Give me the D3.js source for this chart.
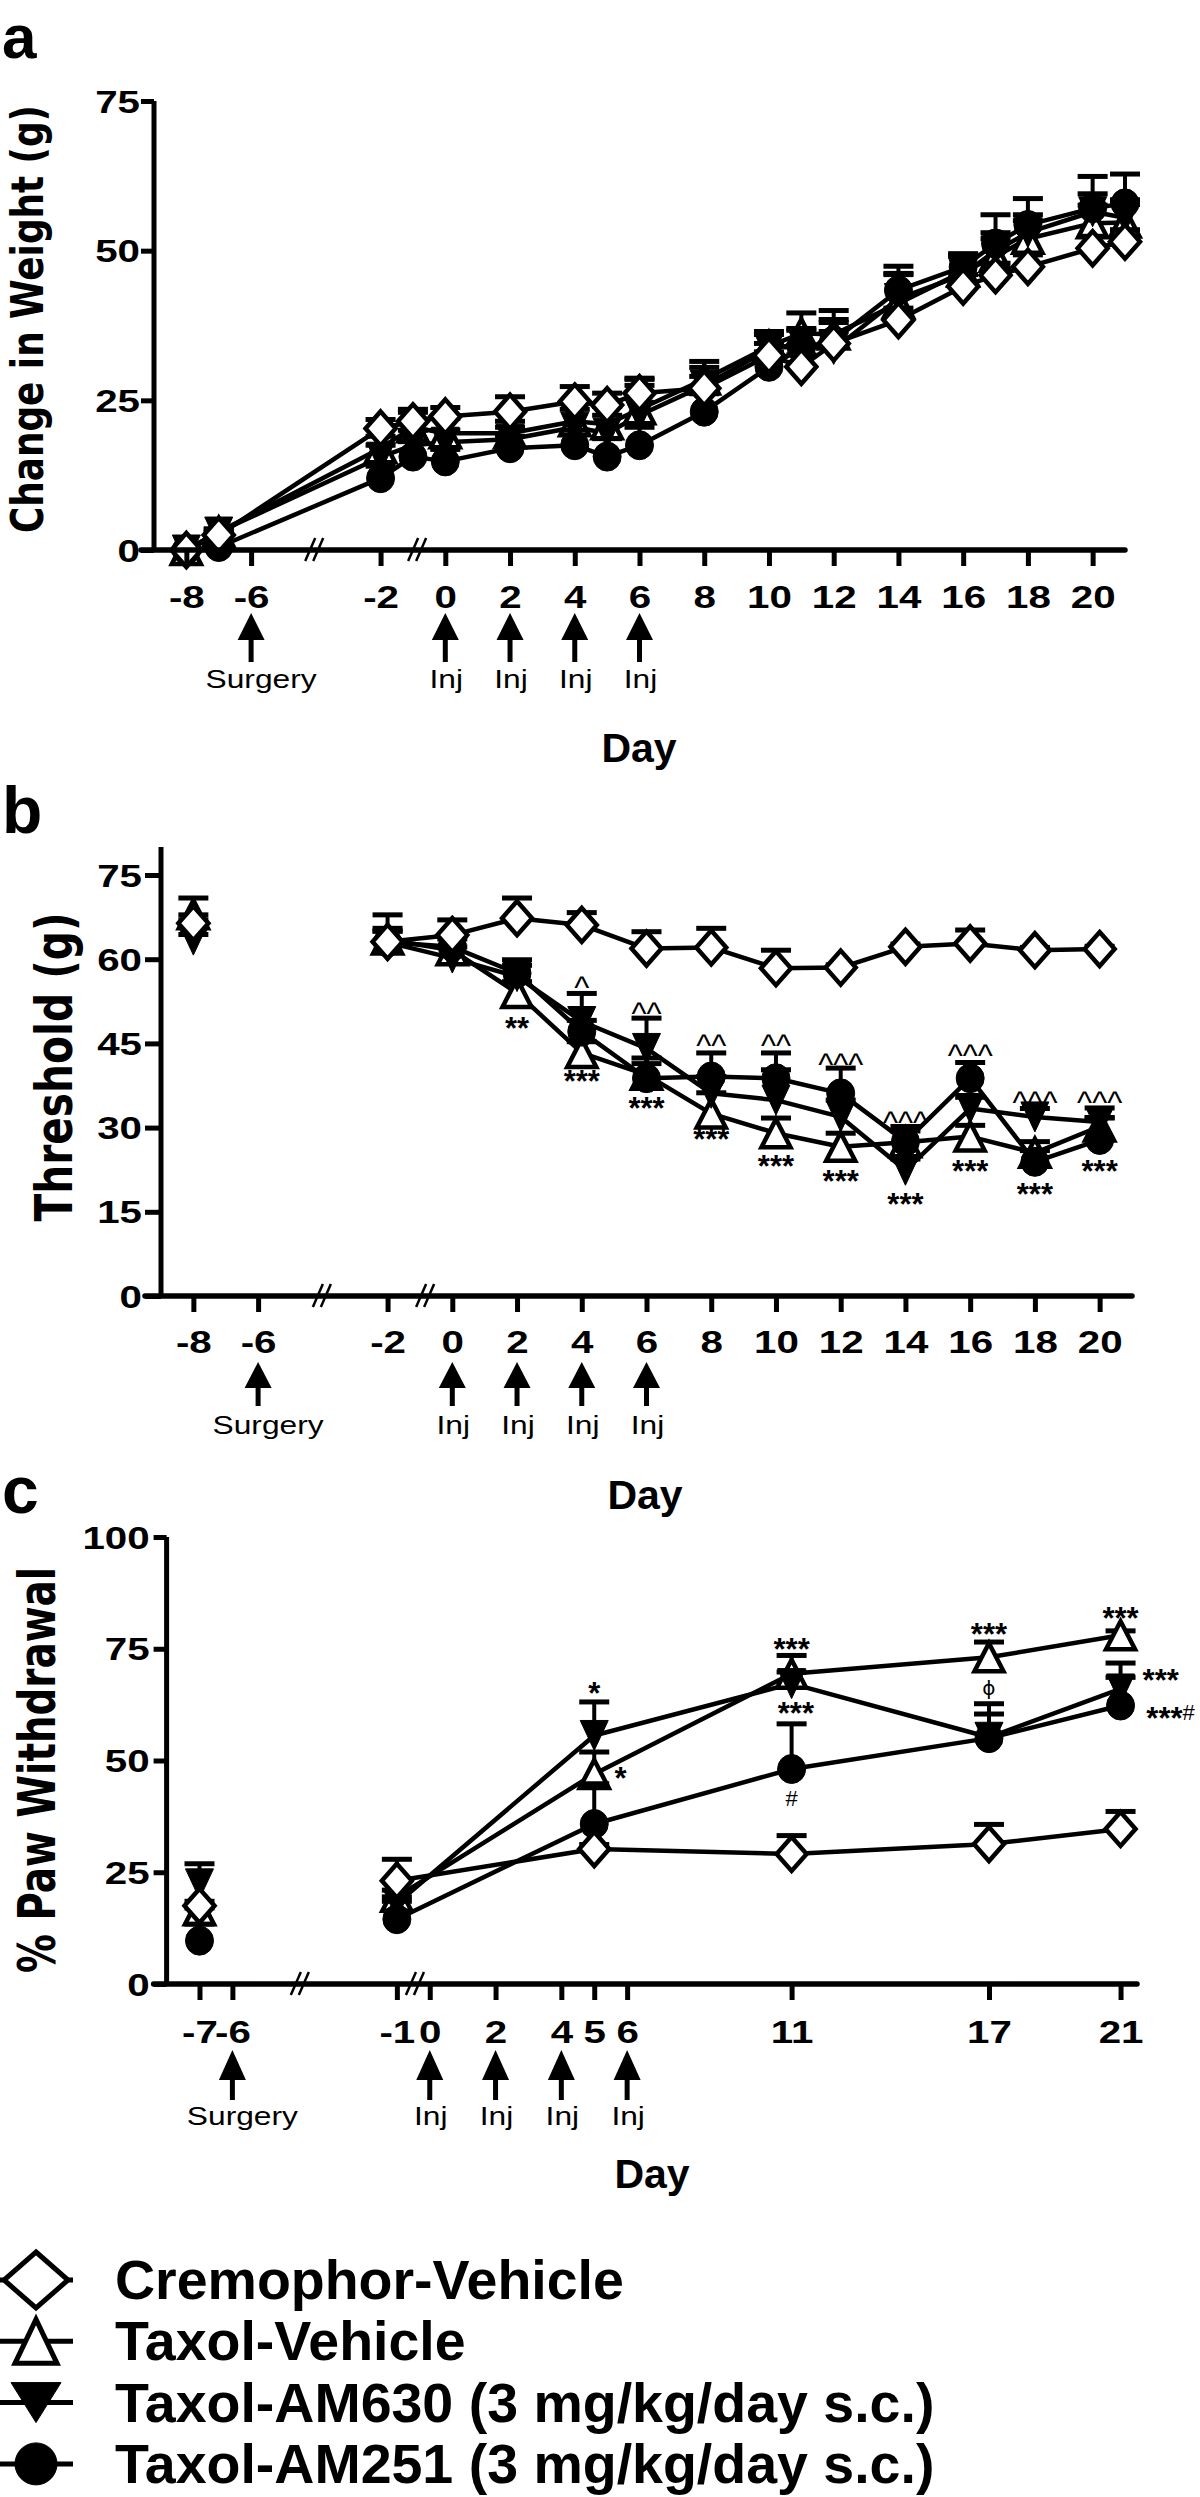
<!DOCTYPE html>
<html><head><meta charset="utf-8">
<script src="https://cdn.jsdelivr.net/npm/d3@7"></script>
<style>
html,body{margin:0;padding:0;background:#fff;}
svg{display:block;background:#fff;}
</style></head>
<body>
<svg id="chart" width="1200" height="2497"></svg>
<script>
// ---------------- DATA ----------------
const seriesNames = ["Cremophor-Vehicle","Taxol-Vehicle","Taxol-AM630 (3 mg/kg/day s.c.)","Taxol-AM251 (3 mg/kg/day s.c.)"];

// Panel a: change in weight (g)
const daysA = [-8,-7,-2,-1,0,2,4,5,6,8,10,11,12,14,16,17,18,20,21];
const weightCrem     = [0,2.5,20.3,21.5,22.3,23.1,24.8,24.2,26.2,27.0,32.5,30.6,34.5,38.4,44.0,45.9,47.3,50.4,51.5];
const weightCremErr  = [0,0.5,1.5,1.5,1.5,2.5,2.5,2,2.5,2,2,2,2,2,2,2,2,2,2];
const weightTaxol    = [0,3.0,17.0,20.5,19.5,19.5,21.5,21.0,23.5,28.5,34.0,36.2,36.0,41.2,46.5,49.0,52.0,54.6,54.7];
const weightTaxolErr = [0,0.5,2,3,2.5,2,3,3,5,3,2.5,3.4,4,5,3,3,3,3,3];
const weightAM630    = [0,3.0,15.5,17.5,18.0,18.5,20.5,19.5,22.5,27.5,33.5,34.6,33.5,42.0,46.0,50.0,53.0,56.5,55.5];
const weightAM630Err = [0,0.5,2,2.5,2,2,3,3,5,3,2.5,2.4,5,4,3,3,3,3,3];
const weightAM251    = [0,0.5,12.0,15.6,14.8,17.0,17.5,15.6,17.5,23.1,30.6,33.7,35.0,43.4,47.3,51.2,54.3,57.1,57.9];
const weightAM251Err = [0,0.5,2,2.5,2,2,2.5,3,3,3,2.5,3,3,4,2,4.8,4.4,5.3,4.9];
const xTicksA = [-8,-6,-2,0,2,4,6,8,10,12,14,16,18,20];
const yTicksA = [0,25,50,75];

// Panel b: threshold (g)
const daysB = [-8,-2,0,2,4,6,8,10,12,14,16,18,20];
const threshCrem     = [66.4,63.1,64.3,67.3,66.1,61.9,62.1,58.4,58.5,62.2,62.8,61.6,61.8];
const threshCremErr  = [1.5,4.8,2.7,3.6,2.2,3.0,3.4,3.2,0.5,0.5,2.4,0.5,0.5];
const threshTaxol    = [68.0,63.5,61.6,54.0,43.3,39.4,32.5,29.0,26.6,27.4,28.4,25.5,30.2];
const threshTaxolErr = [2.9,2,2,2,2,2,3.7,2.7,2.4,2,2,2,1.5];
const threshAM630    = [63.4,63.0,60.2,56.9,48.9,44.1,36.1,34.9,31.9,22.4,33.4,31.9,31.0];
const threshAM630Err = [1,2,2,2,5,5.4,3,5.4,3,2,2,1.5,2.5];
const threshAM251    = [66.0,63.0,62.2,57.5,47.1,38.8,39.1,38.8,36.1,27.5,38.8,23.9,27.8];
const threshAM251Err = [1,2,2,2.4,2,3.6,4.2,4.5,4.5,2.7,2.8,2,4];
const xTicksB = [-8,-6,-2,0,2,4,6,8,10,12,14,16,18,20];
const yTicksB = [0,15,30,45,60,75];
const starDaysB   = [2,4,6,8,10,12,14,16,18,20];
const starLabelsB = ["**","***","***","***","***","***","***","***","***","***"];
const starValsB   = [48.9,39.4,34.6,29.0,24.2,21.6,17.4,23.3,19.2,23.3];
const caretDaysB   = [4,6,8,10,12,14,16,18,20];
const caretLabelsB = ["^","^^","^^","^^","^^^","^^^","^^^","^^^","^^^"];
const caretValsB   = [56.0,51.3,45.6,45.6,42.3,31.9,43.8,35.5,35.5];

// Panel c: % paw withdrawal
const daysC = [-7,-1,5,11,17,21];
const pawCrem     = [17.5,23.1,30.2,29.1,31.3,34.7];
const pawCremErr  = [1,4.8,1,4.1,4.4,3.9];
const pawTaxol    = [16.5,19.5,47.0,69.4,73.1,78.0];
const pawTaxolErr = [0.5,1.5,4.9,4.1,3.4,1];
const pawAM630    = [22.4,18.0,55.6,67.2,55.2,66.0];
const pawAM630Err = [4.5,1.5,7.5,2.6,7.5,5.8];
const pawAM251    = [9.7,14.5,35.8,48.1,55.0,62.3];
const pawAM251Err = [3.7,4,9,10.1,5.4,6.3];
const xTicksC = [-7,-6,-1,0,2,4,5,6,11,17,21];
const yTicksC = [0,25,50,75,100];
const markDaysC   = [5,5.8,11,11.13,11,17,17,21,22.22,22.52];
const markLabelsC = ["*","*","***","***","#","***","\u03D5","***","***","***#"];
const markValsC   = [66.5,47.5,76.2,62.0,41.5,79.6,66.2,83.3,69.4,60.9];

const surgeryDay = -6;
const injDays = [0,2,4,6];

// ---------------- DRAWING ----------------
const svg = d3.select("#chart");
const FONT = "'Liberation Sans', Arial, Helvetica, sans-serif";
const TFONT = "'DejaVu Sans', Verdana, sans-serif";
const symTypes = ["diamond","tri","invtri","circle"];
const symFill = ["#fff","#fff","#000","#000"];

function symPath(type, cx, cy, hw, hh) {
  if (type === "diamond") return `M${cx},${cy-hh}L${cx+hw},${cy}L${cx},${cy+hh}L${cx-hw},${cy}Z`;
  if (type === "tri") return `M${cx},${cy-hh}L${cx+hw},${cy+hh}L${cx-hw},${cy+hh}Z`;
  if (type === "invtri") return `M${cx-hw},${cy-hh}L${cx+hw},${cy-hh}L${cx},${cy+hh}Z`;
  return `M${cx-hw},${cy}A${hw},${hh} 0 1,0 ${cx+hw},${cy}A${hw},${hh} 0 1,0 ${cx-hw},${cy}Z`;
}
const plotSize = {diamond:[15,17], tri:[14.5,14], invtri:[14,15], circle:[14,14.5]};

function drawPanel(c) {
  const g = svg.append("g");
  const x = c.x, y = c.y;
  const x0 = x.domain()[0];
  const axX = x(x0), axY = y(0);

  // series lines
  c.series.forEach((s, si) => {
    const pts = c.days.map((d, i) => ({d, v: s.vals[i]})).slice(c.lineStart);
    g.append("path")
      .attr("d", d3.line().x(p => x(p.d)).y(p => y(p.v))(pts))
      .attr("fill", "none").attr("stroke", "#000").attr("stroke-width", 4.5)
      .attr("stroke-linejoin", "round");
  });
  // error bars + markers
  [1,2,3,0].forEach(si => {
    const s = c.series[si];
    const sg = g.append("g");
    c.days.forEach((d, i) => {
      const e = s.errs[i];
      if (e > 0) {
        const cx = x(d), y1 = y(s.vals[i]), y2 = y(s.vals[i] + e);
        sg.append("line").attr("x1", cx).attr("x2", cx).attr("y1", y1).attr("y2", y2)
          .attr("stroke", "#000").attr("stroke-width", 4);
        sg.append("line").attr("x1", cx - 15).attr("x2", cx + 15).attr("y1", y2).attr("y2", y2)
          .attr("stroke", "#000").attr("stroke-width", 5);
      }
    });
    const t = symTypes[si], sz = plotSize[t];
    c.days.forEach((d, i) => {
      sg.append("path").attr("d", symPath(t, x(d), y(s.vals[i]), sz[0], sz[1]))
        .attr("fill", symFill[si]).attr("stroke", "#000")
        .attr("stroke-width", symFill[si] === "#fff" ? 4.5 : 1).attr("stroke-linejoin", "miter");
    });
  });

  // axes lines
  g.append("line").attr("x1", axX).attr("x2", axX).attr("y1", y(c.yTop)).attr("y2", axY + 2)
    .attr("stroke", "#000").attr("stroke-width", 5);
  g.append("line").attr("x1", axX - c.yTickLen).attr("x2", x(c.xEnd)).attr("y1", axY).attr("y2", axY)
    .attr("stroke", "#000").attr("stroke-width", 5.5).attr("stroke-linecap", "round");

  // x axis ticks
  const xa = g.append("g").attr("transform", `translate(0,${axY})`)
    .call(d3.axisBottom(x).tickValues(c.xTicks).tickSize(16).tickFormat(d => String(d)));
  xa.select(".domain").remove();
  xa.selectAll(".tick line").attr("stroke-width", 5);
  xa.selectAll(".tick text").attr("y", 0).attr("dy", null)
    .attr("transform", `translate(0,${c.xLabelDy}) scale(1.3,1)`)
    .attr("font-family", FONT).attr("font-weight", "bold").attr("font-size", 31).attr("fill", "#000");
  // y axis ticks
  const ya = g.append("g").attr("transform", `translate(${axX},0)`)
    .call(d3.axisLeft(y).tickValues(c.yTicks).tickSize(c.yTickLen).tickFormat(d => String(d)));
  ya.select(".domain").remove();
  ya.selectAll(".tick line").attr("stroke-width", 5);
  ya.selectAll(".tick text").attr("x", 0).attr("dy", null)
    .attr("transform", `translate(${-c.yLabelGap},11) scale(1.3,1)`)
    .attr("font-family", FONT).attr("font-weight", "bold").attr("font-size", 31).attr("fill", "#000");

  // axis breaks
  c.breaks.forEach(b => {
    const bx = x(b);
    [-4, 4].forEach(o => {
      g.append("line").attr("x1", bx + o - 5).attr("y1", axY + 11).attr("x2", bx + o + 5).attr("y2", axY - 12)
        .attr("stroke", "#000").attr("stroke-width", 2.5);
    });
  });

  // arrows and labels
  const arrows = [{d: surgeryDay, t: "Surgery", dx: 10}].concat(injDays.map(d => ({d, t: "Inj", dx: 1})));
  arrows.forEach(a => {
    const ax = x(a.d);
    const top = axY + c.arrow[0], base = axY + c.arrow[1], end = axY + c.arrow[2];
    g.append("path").attr("d", `M${ax},${top}L${ax + 13.5},${base}L${ax - 13.5},${base}Z`).attr("fill", "#000");
    g.append("rect").attr("x", ax - 2.5).attr("y", base - 1).attr("width", 5).attr("height", end - base + 1).attr("fill", "#000");
    g.append("text").attr("transform", `translate(${ax + a.dx},${axY + c.arrow[3]}) scale(1.22,1)`)
      .attr("text-anchor", "middle").attr("font-family", FONT).attr("font-size", 26).attr("fill", "#000").text(a.t);
  });
  // Day label
  g.append("text").attr("x", c.dayX).attr("y", axY + c.dayDy).attr("text-anchor", "middle")
    .attr("font-family", FONT).attr("font-weight", "bold").attr("font-size", 41).text("Day");
  // panel letter
  g.append("text").attr("x", 2).attr("y", c.letterY).attr("font-family", FONT).attr("font-weight", "bold")
    .attr("font-size", c.letterSize).text(c.letter);
  // y title
  g.append("text").attr("transform", `translate(${c.title.x},${c.title.cy}) rotate(-90)`)
    .attr("text-anchor", "middle").attr("font-family", TFONT).attr("font-weight", "bold")
    .attr("font-size", c.title.fs).attr("textLength", c.title.len).attr("lengthAdjust", "spacingAndGlyphs")
    .text(c.title.text);
  return g;
}

function mkSeries(vals) { return vals.map(([v, e]) => ({vals: v, errs: e})); }

// Panel a
const xA = d3.scaleLinear().domain([-9, 21]).range([154, 1125]);
const yA = d3.scaleLinear().domain([0, 75]).range([550, 101]);
drawPanel({
  x: xA, y: yA, days: daysA, lineStart: 0, yTop: 75, xEnd: 21,
  series: mkSeries([[weightCrem, weightCremErr],[weightTaxol, weightTaxolErr],[weightAM630, weightAM630Err],[weightAM251, weightAM251Err]]),
  xTicks: xTicksA, yTicks: yTicksA, yTickLen: 13, yLabelGap: 14, xLabelDy: 58,
  breaks: [-4.05, -0.87], arrow: [63, 90, 112, 138], dayX: 639, dayDy: 212,
  letter: "a", letterY: 58, letterSize: 62,
  title: {text: "Change in Weight (g)", x: 43, cy: 319, fs: 44, len: 428}
});

// Panel b
const xB = d3.scaleLinear().domain([-9, 21]).range([161, 1132]);
const yB = d3.scaleLinear().domain([0, 75]).range([1296, 875]);
const gB = drawPanel({
  x: xB, y: yB, days: daysB, lineStart: 1, yTop: 80, xEnd: 21,
  series: mkSeries([[threshCrem, threshCremErr],[threshTaxol, threshTaxolErr],[threshAM630, threshAM630Err],[threshAM251, threshAM251Err]]),
  xTicks: xTicksB, yTicks: yTicksB, yTickLen: 16, yLabelGap: 19, xLabelDy: 57,
  breaks: [-4.03, -0.84], arrow: [66, 92, 110, 138], dayX: 645, dayDy: 213,
  letter: "b", letterY: 833, letterSize: 66,
  title: {text: "Threshold (g)", x: 72, cy: 1067, fs: 52, len: 309}
});
starDaysB.forEach((d, i) => {
  gB.append("text").attr("x", xB(d)).attr("y", yB(starValsB[i]) + 17).attr("text-anchor", "middle")
    .attr("font-family", FONT).attr("font-weight", "bold").attr("font-size", 31).text(starLabelsB[i]);
});
caretDaysB.forEach((d, i) => {
  gB.append("text").attr("x", xB(d)).attr("y", yB(caretValsB[i]) + 16).attr("text-anchor", "middle")
    .attr("font-family", FONT).attr("font-size", 32).text(caretLabelsB[i]);
});

// Panel c
const xC = d3.scaleLinear().domain([-8, 21.5]).range([166.6, 1137]);
const yC = d3.scaleLinear().domain([0, 100]).range([1984, 1537]);
const gC = drawPanel({
  x: xC, y: yC, days: daysC, lineStart: 1, yTop: 100, xEnd: 21.5,
  series: mkSeries([[pawCrem, pawCremErr],[pawTaxol, pawTaxolErr],[pawAM630, pawAM630Err],[pawAM251, pawAM251Err]]),
  xTicks: xTicksC, yTicks: yTicksC, yTickLen: 13, yLabelGap: 17, xLabelDy: 59,
  breaks: [-3.95, -0.45], arrow: [66, 96, 116, 141], dayX: 652, dayDy: 204,
  letter: "c", letterY: 1513, letterSize: 66,
  title: {text: "% Paw Withdrawal", x: 55, cy: 1770, fs: 52, len: 406}
});
markDaysC.forEach((d, i) => {
  const lab = markLabelsC[i];
  const t = gC.append("text").attr("x", xC(d)).attr("text-anchor", "middle").attr("font-family", FONT);
  if (lab === "#") {
    t.attr("y", yC(markValsC[i]) + 8).attr("font-size", 22).text("#");
  } else if (lab === "\u03D5") {
    t.attr("y", yC(markValsC[i]) + 7).attr("font-size", 20).attr("font-family", TFONT).text(lab);
  } else if (lab.endsWith("#")) {
    t.attr("y", yC(markValsC[i]) + 17);
    t.append("tspan").attr("font-weight", "bold").attr("font-size", 31).text(lab.slice(0, -1));
    t.append("tspan").attr("font-size", 22).attr("dy", -9).text("#");
  } else {
    t.attr("y", yC(markValsC[i]) + 17).attr("font-weight", "bold").attr("font-size", 31).text(lab);
  }
});

// Legend
const legendSizes = {diamond:[32,28], tri:[21,22], invtri:[25,20], circle:[21,21]};
const lg = svg.append("g");
seriesNames.forEach((name, i) => {
  const base = 2299 + i * 61.3, cy = base - 19;
  lg.append("line").attr("x1", 0).attr("x2", 73).attr("y1", cy).attr("y2", cy).attr("stroke", "#000").attr("stroke-width", 5);
  const t = symTypes[i], sz = legendSizes[t];
  lg.append("path").attr("d", symPath(t, 36, cy, sz[0], sz[1])).attr("fill", symFill[i]).attr("stroke", "#000")
    .attr("stroke-width", symFill[i] === "#fff" ? 5 : 1);
  lg.append("text").attr("x", 115).attr("y", base).attr("font-family", FONT).attr("font-weight", "bold")
    .attr("font-size", 55.5).text(name);
});
</script>
</body></html>
